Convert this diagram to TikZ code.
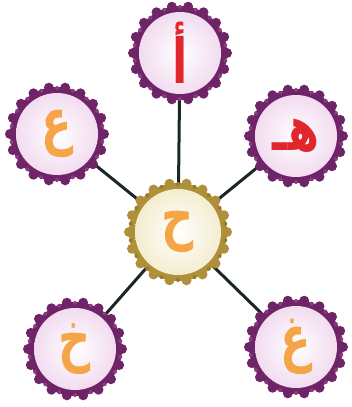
\documentclass[tikz,border=0pt]{standalone}
\usepackage{fontspec}
\usepackage{graphicx}
\newfontfamily\arabicfont[Script=Arabic]{DejaVu Sans}
\TeXXeTstate=1
\usetikzlibrary{backgrounds,calc}
\definecolor{ringp}{HTML}{6E2466}
\definecolor{bumpp}{HTML}{8A3A80}
\definecolor{innerp}{HTML}{F2DCF0}
\definecolor{ringg}{HTML}{B08F3A}
\definecolor{bumpg}{HTML}{9A7A2E}
\definecolor{innerg}{HTML}{F4EDCF}
\definecolor{letred}{HTML}{E2262C}
\definecolor{letor}{HTML}{F5A446}
\definecolor{linec}{HTML}{1C2628}
% #1 centre, #2 ring colour, #3 spot colour, #4 inner colour, #5 radius
\newcommand\bumpyring[5]{%
  \foreach \ang in {0,20,...,340}{\fill[#2] ($(#1)+(\ang:#5)$) circle (5);}
  \fill[#2] (#1) circle (#5);
  \foreach \ang in {10,30,...,350}{\fill[#3] ($(#1)+(\ang:#5-1)$) circle (2);}
  \shade[inner color=white,outer color=#4] (#1) circle (#5-6);
}
\newcommand\arlet[1]{\scalebox{0.72}[1]{\beginR #1\endR}}
\tikzset{letter/.style={circle,minimum size=92pt,inner sep=0pt,font=\arabicfont\fontsize{62}{62}\selectfont\bfseries}}
\begin{document}
\begin{tikzpicture}[x=1pt,y=-1pt]
\useasboundingbox (0,0) rectangle (351,407);
\coordinate (pc) at (178,232);
\coordinate (pt) at (180,53);
\coordinate (pl) at (57,134);
\coordinate (pr) at (296,136);
\coordinate (pbl) at (75,349);
\coordinate (pbr) at (296,347);
\bumpyring{pt}{ringp}{bumpp}{innerp}{47}
\bumpyring{pl}{ringp}{bumpp}{innerp}{47}
\bumpyring{pr}{ringp}{bumpp}{innerp}{47}
\bumpyring{pbl}{ringp}{bumpp}{innerp}{47}
\bumpyring{pbr}{ringp}{bumpp}{innerp}{47}
\bumpyring{pc}{ringg}{bumpg}{innerg}{49}
\node[letter,text=letor] (c) at (pc) {\arlet{ح}};
\node[letter,text=letred] (t) at (pt) {\arlet{أ}};
\node[letter,text=letor] (l) at (pl) {\arlet{ع}};
\node[letter,text=letred] (r) at (pr) {\arlet{هـ}};
\node[letter,text=letor] (bl) at (pbl) {\arlet{خ}};
\node[letter,text=letor] (br) at (pbr) {\arlet{غ}};
\begin{pgfonlayer}{background}
\fill[white] (0,0) rectangle (351,407);
\draw[linec,line width=3pt] (c.center) -- (t.center);
\draw[linec,line width=3pt] (c.center) -- (l.center);
\draw[linec,line width=3pt] (c.center) -- (r.center);
\draw[linec,line width=3pt] (c.center) -- (bl.center);
\draw[linec,line width=3pt] (c.center) -- (br.center);
\end{pgfonlayer}
\end{tikzpicture}
\end{document}
